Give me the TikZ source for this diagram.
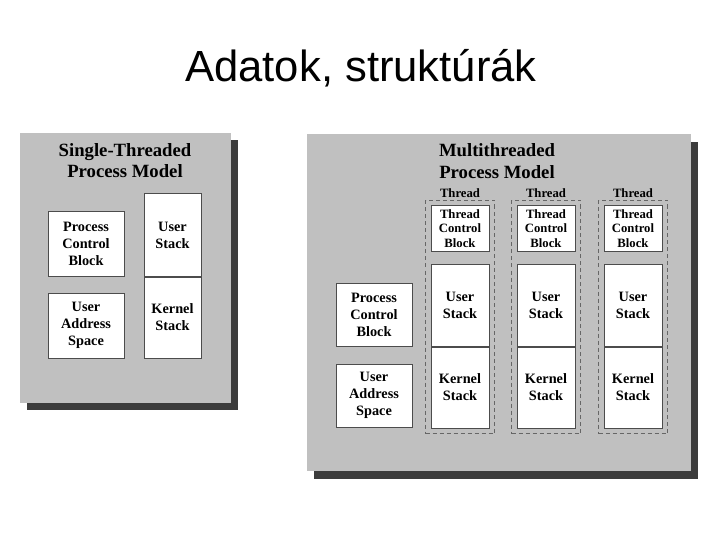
\documentclass[tikz,border=0pt]{standalone}
\usepackage{fontspec}
\setmainfont{Liberation Serif}
\newfontfamily\headfont{Liberation Sans}
\usepackage{xcolor}
\usetikzlibrary{positioning, fit}

\definecolor{panelgray}{HTML}{C0C0C0}
\definecolor{shadegray}{HTML}{3C3C3C}

\begin{document}
\begin{tikzpicture}[x=1pt, y=-1pt,
  panel/.style={fill=panelgray},
  shade/.style={fill=shadegray},
  ttl/.style={align=center, inner sep=0pt, font=\fontsize{18.7}{21.5}\selectfont\bfseries},
  bigbox/.style={draw=black!70, line width=1pt, fill=white, inner sep=0pt, align=center,
                 minimum width=76pt, minimum height=64pt, font=\fontsize{14.3}{17}\selectfont\bfseries},
  stackbox/.style={bigbox, minimum width=58pt, minimum height=82pt},
  tcbbox/.style={bigbox, minimum width=58pt, minimum height=45pt,
                 font=\fontsize{12.7}{14.5}\selectfont\bfseries},
  thr/.style={draw=black!60, line width=0.8pt, dash pattern=on 4pt off 3pt, inner sep=5pt},
  thrlbl/.style={inner sep=1pt, font=\fontsize{12.7}{14.5}\selectfont\bfseries},
]
  \useasboundingbox (0,0) rectangle (720,540);

  \node[font=\headfont\fontsize{43.6}{48}\selectfont, anchor=base] (head) at (361,82) {Adatok, struktúrák};

  % single-threaded model
  \fill[shade] (27,140) rectangle (238,410);
  \fill[panel] (20,133) rectangle (231,403);
  \node[ttl] (stitle) at (125,160.5) {Single-Threaded\\Process Model};

  \node[bigbox] (spcb) at (86,244) {Process\\Control\\Block};
  \node[bigbox, minimum height=65pt] (suas) at (86,325.5) {User\\Address\\Space};
  \node[stackbox, minimum width=57pt] (sus) at (172.5,235) {User\\Stack};
  \node[stackbox, minimum width=57pt, minimum height=81pt, below=0pt of sus] (sks) {Kernel\\Stack};

  % multithreaded model
  \fill[shade] (314,142) rectangle (698,479);
  \fill[panel] (307,134) rectangle (691,471);
  \node[ttl] (mtitle) at (497,161) {Multithreaded\\Process Model};

  \node[bigbox, minimum height=63pt] (mpcb) at (374,314.5) {Process\\Control\\Block};
  \node[bigbox, minimum height=63pt] (muas) at (374,395.5) {User\\Address\\Space};

  \node[tcbbox] (tcb1) at (460,228.5) {Thread\\Control\\Block};
  \node[stackbox] (us1) at (460,305) {User\\Stack};
  \node[stackbox, minimum height=81pt, below=0pt of us1] (ks1) {Kernel\\Stack};
  \node[thr, fit=(tcb1)(ks1)] (th1) {};
  \node[thrlbl, above=1pt of th1] (tl1) {Thread};

  \node[tcbbox] (tcb2) at (546,228.5) {Thread\\Control\\Block};
  \node[stackbox] (us2) at (546,305) {User\\Stack};
  \node[stackbox, minimum height=81pt, below=0pt of us2] (ks2) {Kernel\\Stack};
  \node[thr, fit=(tcb2)(ks2)] (th2) {};
  \node[thrlbl, above=1pt of th2] (tl2) {Thread};

  \node[tcbbox] (tcb3) at (633,228.5) {Thread\\Control\\Block};
  \node[stackbox] (us3) at (633,305) {User\\Stack};
  \node[stackbox, minimum height=81pt, below=0pt of us3] (ks3) {Kernel\\Stack};
  \node[thr, fit=(tcb3)(ks3)] (th3) {};
  \node[thrlbl, above=1pt of th3] (tl3) {Thread};
\end{tikzpicture}
\end{document}
